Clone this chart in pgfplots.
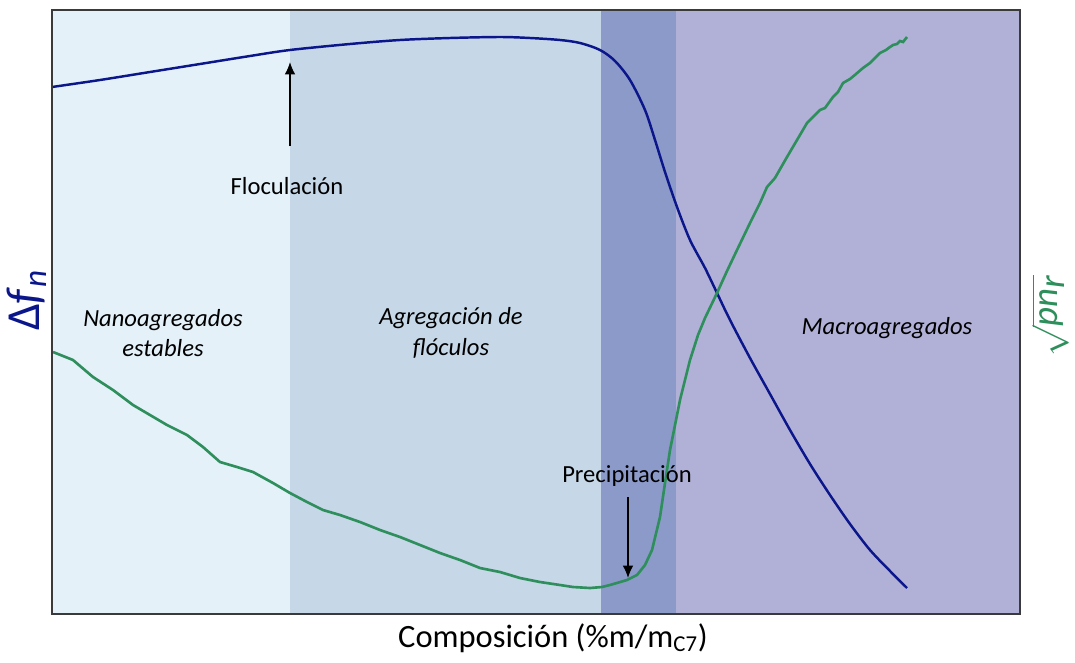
\documentclass[border=0pt]{standalone}
\usepackage{fontspec}
\setmainfont{Carlito}
\usepackage{pgfplots}
\pgfplotsset{compat=1.18}
\usetikzlibrary{arrows.meta}

\definecolor{zoneA}{HTML}{E4F1F9}
\definecolor{zoneB}{HTML}{C6D7E8}
\definecolor{zoneC}{HTML}{8C9ACA}
\definecolor{zoneD}{HTML}{B1B1D8}
\definecolor{dfblue}{HTML}{0B168A}
\definecolor{pngreen}{HTML}{2E8F5C}
\definecolor{frame}{HTML}{3A3A3A}

\begin{document}
\begin{tikzpicture}
\begin{axis}[
  scale only axis,
  width=19.36cm, height=12.08cm,
  xmin=52, xmax=1020, ymin=10, ymax=614,
  y dir=reverse,
  xtick=\empty, ytick=\empty,
  axis on top,
  axis line style={frame, line width=0.9pt},
  clip=false]
% zonas de fondo
\addplot[fill=zoneA, draw=none] coordinates {(52,10) (290,10) (290,614) (52,614)} --cycle;
\addplot[fill=zoneB, draw=none] coordinates {(290,10) (601,10) (601,614) (290,614)} --cycle;
\addplot[fill=zoneC, draw=none] coordinates {(601,10) (676,10) (676,614) (601,614)} --cycle;
\addplot[fill=zoneD, draw=none] coordinates {(676,10) (1020,10) (1020,614) (676,614)} --cycle;

% Delta f_n
\addplot[dfblue, line width=1.4pt, smooth] coordinates {
 (52,87) (100,80) (150,72) (200,64) (250,56) (290,50) (350,44) (400,40)
 (450,38) (500,37) (530,38) (560,40) (580,43) (600,50) (615,61) (630,80)
 (645,110) (655,140) (665,172) (677,207) (690,240) (705,268) (717,293)
 (730,320) (750,358) (770,394) (790,430) (810,464) (830,495) (850,524)
 (870,550) (890,571) (907,588)};

% sqrt(pn_r)
\addplot[pngreen, line width=1.5pt] coordinates {
 (53,352) (73,360) (93,377) (113,390) (133,405) (150,415) (167,425) (187,435)
 (203,447) (220,462) (237,467) (253,472) (273,483) (290,493) (307,502)
 (323,510) (340,515) (360,522) (380,530) (400,537) (420,545) (440,553)
 (460,560) (480,568) (500,572) (520,578) (540,582) (560,585) (573,587)
 (590,588) (602,587) (610,585) (627,580) (637,575) (645,565) (652,550)
 (660,517) (665,483) (670,450) (680,400) (690,360) (698,335) (705,318)
 (717,293) (727,271) (737,250) (750,223) (760,203) (767,187) (775,178)
 (787,157) (797,140) (807,123) (817,113) (820,110) (825,108) (833,97)
 (838,92) (843,83) (850,79) (856,74) (863,68) (870,63) (875,58) (880,53)
 (886,50) (890,47) (893,45) (897,44) (900,41) (903,42) (907,37)};

% flechas
\addplot[black, line width=0.8pt, -{Latex[length=7pt,width=6pt]}] coordinates {(290,146) (290,62)};
\addplot[black, line width=0.8pt, -{Latex[length=7pt,width=6pt]}] coordinates {(628,497) (628,578)};

% textos
\node[font=\fontsize{14}{17}\selectfont] at (axis cs:287,186) {Floculación};
\node[font=\fontsize{14}{17}\selectfont] at (axis cs:627,476) {Precipitación};
\node[font=\fontsize{14}{17.5}\selectfont\itshape, align=center] at (axis cs:163,333) {Nanoagregados\\estables};
\node[font=\fontsize{14}{17.5}\selectfont\itshape, align=center] at (axis cs:451,333) {Agregación de\\flóculos};
\node[font=\fontsize{14}{17}\selectfont\itshape] at (axis cs:887,328) {Macroagregados};

\node[font=\fontsize{18.5}{22}\selectfont] at (axis cs:553,638) {Composición (\%m/m\textsubscript{C7})};
\node[font=\fontsize{27}{30}\selectfont, dfblue, rotate=90] at (axis cs:27,300) {Δ\textit{f}\textsubscript{\textit{n}}};
\node[font=\fontsize{21}{24}\selectfont, pngreen, rotate=90] at (axis cs:1050,316) {$\sqrt{\textit{pn}_{\textit{r}}}$};
\end{axis}
\pgfresetboundingbox
\path[use as bounding box] (-1.04cm,-0.96cm) rectangle (20.46cm,12.28cm);
\end{tikzpicture}
\end{document}
